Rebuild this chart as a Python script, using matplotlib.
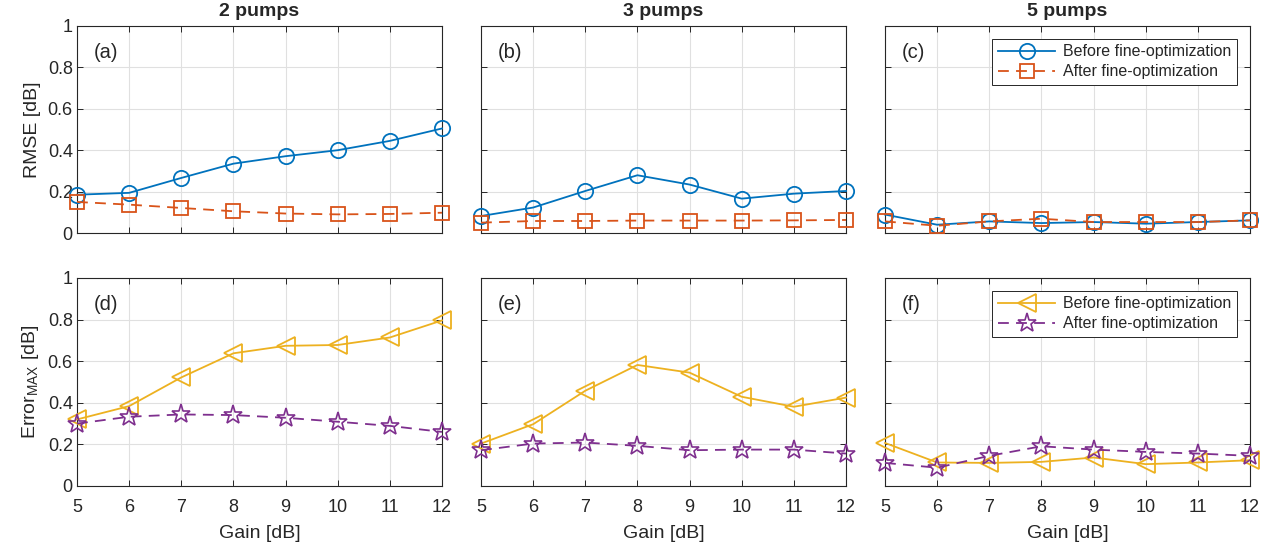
import matplotlib

matplotlib.use("Agg")

import matplotlib.pyplot as plt
import numpy as np

# MATLAB default line colours
BLUE = "#0072BD"
ORANGE = "#D95319"
YELLOW = "#EDB120"
PURPLE = "#7E2F8E"
GRID = "#e0e0e0"

gain = [5, 6, 7, 8, 9, 10, 11, 12]
titles = ["2 pumps", "3 pumps", "5 pumps"]
letters_top = ["(a)", "(b)", "(c)"]
letters_bot = ["(d)", "(e)", "(f)"]

# RMSE [dB]
rmse_before_2 = [0.185, 0.194, 0.266, 0.335, 0.371, 0.400, 0.445, 0.505]
rmse_after_2 = [0.150, 0.137, 0.121, 0.105, 0.094, 0.090, 0.092, 0.098]
rmse_before_3 = [0.082, 0.123, 0.203, 0.279, 0.234, 0.166, 0.190, 0.203]
rmse_after_3 = [0.050, 0.058, 0.058, 0.060, 0.060, 0.060, 0.061, 0.063]
rmse_before_5 = [0.089, 0.040, 0.056, 0.048, 0.053, 0.045, 0.053, 0.061]
rmse_after_5 = [0.056, 0.035, 0.056, 0.069, 0.053, 0.053, 0.053, 0.061]

# max error [dB]
emax_before_2 = [0.320, 0.384, 0.522, 0.638, 0.674, 0.678, 0.714, 0.796]
emax_after_2 = [0.300, 0.333, 0.344, 0.341, 0.328, 0.309, 0.289, 0.260]
emax_before_3 = [0.204, 0.297, 0.458, 0.582, 0.545, 0.429, 0.381, 0.425]
emax_after_3 = [0.172, 0.204, 0.209, 0.193, 0.172, 0.175, 0.175, 0.156]
emax_before_5 = [0.207, 0.113, 0.111, 0.116, 0.137, 0.105, 0.113, 0.124]
emax_after_5 = [0.111, 0.088, 0.145, 0.191, 0.175, 0.164, 0.156, 0.145]

rmse = [
    (rmse_before_2, rmse_after_2),
    (rmse_before_3, rmse_after_3),
    (rmse_before_5, rmse_after_5),
]
emax = [
    (emax_before_2, emax_after_2),
    (emax_before_3, emax_after_3),
    (emax_before_5, emax_after_5),
]

plt.rcParams.update(
    {
        "font.family": ["Liberation Sans", "DejaVu Sans"],
        "font.size": 13,
        "mathtext.fontset": "custom",
        "mathtext.rm": "Liberation Sans",
        "mathtext.it": "Liberation Sans:italic",
        "axes.edgecolor": "#262626",
        "axes.linewidth": 0.8,
        "xtick.color": "#262626",
        "ytick.color": "#262626",
        "text.color": "#262626",
        "axes.labelcolor": "#262626",
    }
)

W, H = 1270, 548
fig = plt.figure(figsize=(W / 100, H / 100), dpi=100)

lefts = [77, 481, 885]
width = 365
rows = [(26, 233), (278, 486)]


def _axes(col, row):
    top, bot = rows[row]
    return fig.add_axes(
        [lefts[col] / W, 1 - bot / H, width / W, (bot - top) / H]
    )


def _style(ax, show_x, show_y):
    ax.set_xlim(5, 12)
    ax.set_ylim(0, 1)
    ax.set_xticks(gain)
    ax.set_yticks(np.arange(0, 1.01, 0.2))
    ax.set_yticklabels(["0", "0.2", "0.4", "0.6", "0.8", "1"])
    ax.tick_params(
        direction="in", top=True, right=True, length=4, width=0.7,
        labelsize=13,
    )
    ax.tick_params(axis="x", pad=9)
    ax.tick_params(axis="y", pad=3)
    if not show_x:
        ax.set_xticklabels([])
    if not show_y:
        ax.set_yticklabels([])
    ax.grid(True, color=GRID, lw=0.8)
    ax.set_axisbelow(True)


def _legend(ax):
    leg = ax.legend(
        loc="upper right", fontsize=11.5, fancybox=False,
        edgecolor="#262626", framealpha=1, handlelength=3.6,
        borderaxespad=0.8, labelspacing=0.3, handletextpad=0.5,
        borderpad=0.35,
    )
    leg.get_frame().set_linewidth(0.7)


mk = dict(mfc="none", clip_on=False, zorder=3)

for col in range(3):
    ax = _axes(col, 0)
    before, after = rmse[col]
    ax.plot(gain, before, "-o", color=BLUE, lw=1.3, ms=11, mew=1.3,
            label="Before fine-optimization", **mk)
    ax.plot(gain, after, "--s", color=ORANGE, lw=1.3, ms=10, mew=1.3,
            dashes=(6, 4), label="After fine-optimization", **mk)
    _style(ax, False, col == 0)
    ax.set_title(titles[col], fontweight="bold", fontsize=14, pad=7)
    ax.text(0.045, 0.874, letters_top[col], transform=ax.transAxes,
            fontsize=14.5, va="center")
    if col == 0:
        ax.set_ylabel("RMSE [dB]", fontsize=14, labelpad=5)
    if col == 2:
        _legend(ax)

    ax = _axes(col, 1)
    before, after = emax[col]
    ax.plot(gain, before, "-<", color=YELLOW, lw=1.3, ms=13, mew=1.3,
            label="Before fine-optimization", **mk)
    ax.plot(gain, after, "--*", color=PURPLE, lw=1.3, ms=14, mew=1.2,
            dashes=(6, 4), label="After fine-optimization", **mk)
    _style(ax, True, col == 0)
    ax.set_xlabel("Gain [dB]", fontsize=14, labelpad=7)
    ax.text(0.045, 0.874, letters_bot[col], transform=ax.transAxes,
            fontsize=14.5, va="center")
    if col == 0:
        ax.set_ylabel(r"Error$_{\mathrm{MAX}}$ [dB]", fontsize=14, labelpad=5)
    if col == 2:
        _legend(ax)

fig.savefig("out.png", dpi=100)
